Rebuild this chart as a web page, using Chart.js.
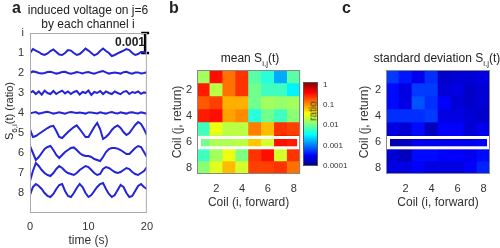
<!DOCTYPE html>
<html>
<head>
<meta charset="utf-8">
<script src="https://cdn.jsdelivr.net/npm/chart.js@4.4.0/dist/chart.umd.min.js"></script>
<style>
  body { margin: 0; width: 500px; height: 248px; overflow: hidden; position: relative; background: #fff;
         font-family: "Liberation Sans", Arial, sans-serif; color: #222; }
  canvas { position: absolute; top: 0; }
  .t { position: absolute; white-space: nowrap; font-size: 12px; transform: translate(-50%, -50%); }
  .rot { transform: translate(-50%, -50%) rotate(-90deg); }
  .lab { position: absolute; top: 0; font-weight: bold; font-size: 16px; line-height: 16px; }
  sub { font-size: 8px; vertical-align: -4px; line-height: 0; }
</style>
</head>
<body>
<canvas id="chA" width="160" height="248" style="left:0"></canvas>
<canvas id="chB" width="145" height="248" style="left:160px"></canvas>
<canvas id="chCb" width="55" height="248" style="left:300px"></canvas>
<canvas id="chC" width="150" height="248" style="left:350px"></canvas>

<div class="lab" style="left:12px">a</div>
<div class="lab" style="left:169px">b</div>
<div class="lab" style="left:342px">c</div>
<div class="t" style="left:88px;top:10px">induced voltage on j=6</div>
<div class="t" style="left:88px;top:24px">by each channel i</div>
<div class="t rot" style="left:9px;top:111px;font-size:11px">S<sub>6,i</sub>(t) (ratio)</div>
<div class="t" style="left:130px;top:42px;font-weight:bold">0.001</div>
<div class="t" style="left:250px;top:58px">mean S<sub>i,j</sub>(t)</div>
<div class="t" style="left:437px;top:58px">standard deviation S<sub>i,j</sub>(t)</div>
<div class="t rot" style="left:313px;top:111px;font-size:10px;color:#333">ratio</div>

<script>
// panel a: time axis and per-channel deflection (units of 0.001 ratio, up = positive)
const tSec = [0,0.5,1,1.5,2,2.5,3,3.5,4,4.5,5,5.5,6,6.5,7,7.5,8,8.5,9,9.5,10,
              10.5,11,11.5,12,12.5,13,13.5,14,14.5,15,15.5,16,16.5,17,17.5,18,18.5,19,19.5,20];
const trace1 = [0.0,0.2,0.12,0.05,-0.05,-0.1,-0.02,0.1,0.18,0.05,-0.08,-0.1,0.0,0.15,0.12,0.0,-0.1,-0.05,0.08,0.22,0.12,
                0.0,-0.12,-0.05,0.1,0.22,0.1,0.0,-0.15,-0.1,-0.02,0.05,0.12,0.2,0.15,0.0,-0.1,-0.05,0.05,0.05,0.0];
const trace2 = [0.0,0.08,0.05,0.0,-0.03,0.0,0.05,0.06,0.02,-0.03,0.0,0.05,0.06,0.0,-0.04,0.0,0.05,0.02,-0.02,0.03,0.05,
                0.0,-0.04,0.02,0.06,0.1,0.03,-0.03,0.0,0.03,0.0,-0.03,0.04,0.06,0.0,-0.04,0.02,0.03,-0.02,0.0,0.04];
const trace3 = [0.0,0.1,-0.05,0.08,-0.08,0.12,0.0,-0.05,0.1,-0.05,0.05,0.12,-0.02,0.08,-0.05,0.05,0.1,-0.08,0.05,0.0,0.12,
                -0.1,0.05,0.0,0.1,-0.05,0.08,0.0,-0.05,0.08,0.0,-0.06,0.06,0.1,-0.05,0.05,0.0,0.08,-0.04,0.03,0.0];
const trace4 = [-0.02,0.02,0.05,-0.03,0.0,0.04,0.06,0.02,-0.03,0.0,0.04,0.0,-0.04,0.02,0.05,0.02,0.0,0.03,0.0,-0.03,0.03,
                0.02,0.0,-0.02,0.04,0.0,-0.03,0.02,0.05,0.0,-0.02,0.03,0.0,-0.03,0.02,0.04,0.0,-0.02,0.03,0.0,-0.04];
const trace5 = [0.18,-0.2,-0.15,-0.05,0.05,0.15,0.25,0.33,0.36,0.1,-0.2,-0.25,-0.1,0.05,0.18,0.3,0.38,0.2,0.0,-0.2,-0.2,
                0.05,0.3,0.5,0.2,-0.3,-0.2,-0.05,0.15,0.3,0.38,0.25,0.05,-0.1,0.0,0.2,0.4,0.55,0.45,0.2,-0.1];
const trace6 = [0.35,0.0,-0.35,-0.2,0.0,0.2,0.3,0.35,0.15,-0.1,-0.25,-0.1,0.05,0.15,0.25,0.28,0.15,0.0,-0.1,-0.15,-0.15,
                -0.2,-0.3,-0.35,-0.4,-0.2,0.05,0.2,0.25,0.25,0.22,0.15,0.05,-0.05,-0.05,0.1,0.25,0.35,0.3,0.05,-0.2];
const trace7 = [-0.4,0.1,0.5,0.35,0.15,0.0,-0.1,-0.15,0.0,0.2,0.35,0.25,0.1,0.0,-0.05,-0.1,0.0,0.15,0.25,0.35,0.3,
                0.15,0.0,-0.1,-0.05,0.2,0.3,0.25,0.15,0.05,0.0,0.05,0.15,0.25,0.2,0.05,-0.05,-0.1,0.0,0.1,0.3];
const trace8 = [-0.1,0.3,0.45,0.35,0.2,0.0,-0.15,-0.2,-0.05,0.2,0.4,0.45,0.1,-0.15,-0.2,0.0,0.25,0.45,0.3,0.0,-0.2,
                -0.1,0.1,0.3,0.45,0.5,0.2,-0.05,-0.2,-0.1,0.15,0.4,0.3,0.0,-0.2,-0.15,0.1,0.35,0.45,0.3,0.2];
const traces = [trace1, trace2, trace3, trace4, trace5, trace6, trace7, trace8];
const chanTicks = [0, 1, 2, 3, 4, 5, 6, 7, 8];
const chanLabels = ['i', '1', '2', '3', '4', '5', '6', '7', '8'];
const timeTicks = [0, 10, 20];
const scaleBarT = 19.7, scaleBarY = [0, 1];   // 0.001 ratio bar

// panels b, c: log10 of mean and std of S_ij (rows j = 1..8, columns i = 1..8)
const coilLabels = ['1', '2', '3', '4', '5', '6', '7', '8'];
const coilTicks = [2, 4, 6, 8];
const meanLog = [
  [-1.8, -0.45, -0.85, -0.6, -2.1, -2.3, -2.8, -2.1],
  [-0.5, -1.7, -0.85, -0.6, -2.0, -2.2, -2.2, -2.5],
  [-0.75, -0.65, -1.1, -1.1, -2.0, -1.8, -1.85, -1.8],
  [-0.5, -0.45, -1.05, -0.95, -2.3, -2.0, -2.2, -1.9],
  [-2.2, -1.5, -1.7, -1.7, -0.9, -1.15, -0.6, -0.65],
  [-2.0, -1.75, -1.75, -1.7, -1.2, -1.6, -0.45, -0.5],
  [-2.2, -1.8, -1.5, -1.95, -0.6, -0.45, -1.6, -0.6],
  [-1.9, -1.55, -1.15, -1.6, -0.65, -0.65, -0.6, -0.85]
];
const stdLog = [
  [-3.25, -3.4, -3.55, -3.3, -3.7, -3.65, -3.65, -3.6],
  [-3.45, -3.6, -3.25, -3.25, -3.65, -3.6, -3.7, -3.65],
  [-3.45, -3.6, -3.15, -3.3, -3.5, -3.65, -3.7, -3.65],
  [-3.3, -3.3, -3.3, -3.25, -3.6, -3.6, -3.65, -3.7],
  [-3.6, -3.65, -3.45, -3.75, -3.5, -3.5, -3.65, -3.55],
  [-3.8, -3.75, -3.55, -3.55, -3.55, -3.55, -3.55, -3.5],
  [-3.65, -3.75, -3.45, -3.45, -3.5, -3.5, -3.55, -3.45],
  [-3.6, -3.6, -3.5, -3.6, -3.6, -3.6, -3.5, -3.35]
];
const highlightRow = 6;
const cbTicks = [0.0001, 0.001, 0.01, 0.1, 1];
const cbLabels = ['0.0001', '0.001', '0.01', '0.1', '1'];
const cbMin = 0.0001, cbMax = 1.32;

Chart.defaults.font.family = '"Liberation Sans", Arial, sans-serif';
Chart.defaults.color = '#333';

const clamp = v => Math.max(0, Math.min(1, v));
function jet(t) {
  const r = clamp(Math.min(4 * t - 1.5, -4 * t + 4.5));
  const g = clamp(Math.min(4 * t - 0.5, -4 * t + 3.5));
  const b = clamp(Math.min(4 * t + 0.5, -4 * t + 2.5));
  return `rgb(${Math.round(r * 255)},${Math.round(g * 255)},${Math.round(b * 255)})`;
}
const lmin = Math.log10(cbMin), lmax = Math.log10(cbMax);
const logColor = v => jet((v - lmin) / (lmax - lmin));

const framePlugin = {
  id: 'frame',
  afterDraw(chart, args, opts) {
    const {ctx, chartArea: a} = chart;
    ctx.save();
    ctx.strokeStyle = opts.color || '#999';
    ctx.lineWidth = 1;
    ctx.strokeRect(a.left + 0.5, a.top + 0.5, a.width - 1, a.height - 1);
    ctx.restore();
  }
};
const rowBox = {
  id: 'rowBox',
  afterDatasetsDraw(chart) {
    const {ctx, chartArea: a, scales: {y}} = chart;
    const y0 = y.getPixelForValue(highlightRow - 0.5), y1 = y.getPixelForValue(highlightRow + 0.5);
    ctx.save();
    ctx.strokeStyle = '#fff';
    ctx.lineWidth = 3;
    ctx.strokeRect(a.left + 2.5, y0 + 2.5, a.width - 4, y1 - y0 - 2.7);
    ctx.restore();
  }
};

const tickFont = {size: 11};
const noGrid = {display: false, drawTicks: false};

// ---- panel a
new Chart(document.getElementById('chA'), {
  type: 'line',
  data: {
    datasets: traces.map((tr, k) => ({
      data: tr.map((d, n) => ({x: tSec[n], y: k + 1 - d})),
      borderColor: '#2323d8', borderWidth: 2, pointRadius: 0, tension: 0
    })).concat([{
      data: scaleBarY.map(v => ({x: scaleBarT, y: v})),
      borderColor: '#000', borderWidth: 2.5, pointStyle: 'line', pointRadius: 4,
      pointBorderColor: '#000', pointBorderWidth: 2.5, clip: false
    }])
  },
  options: {
    responsive: false, animation: false, devicePixelRatio: 1,
    layout: {padding: {top: 33, right: 10, left: 0, bottom: 0}},
    plugins: {legend: {display: false}, tooltip: {enabled: false}, frame: {color: '#aaa'}},
    scales: {
      x: {
        type: 'linear', min: 0, max: 20,
        afterBuildTicks: s => { s.ticks = timeTicks.map(v => ({value: v})); },
        afterFit: s => { s.height = 35; },
        grid: noGrid, border: {display: false},
        ticks: {font: tickFont, padding: 7, maxRotation: 0},
        title: {display: true, text: 'time (s)', font: {size: 12}, padding: 0}
      },
      y: {
        type: 'linear', reverse: true, min: 0, max: 9,
        afterBuildTicks: s => { s.ticks = chanTicks.map(v => ({value: v})); },
        afterFit: s => { s.width = 30; },
        grid: noGrid, border: {display: false},
        ticks: {font: tickFont, padding: 6, callback: (v, i) => chanLabels[i]}
      }
    }
  },
  plugins: [framePlugin]
});

// ---- panels b and c
function heatmap(id, vals, yAxisW, titlePad, padRight) {
  const datasets = vals.map((row, r) => ({
    data: row.map(() => [r + 0.5, r + 1.5]),
    backgroundColor: row.map(logColor),
    grouped: false, barPercentage: 1, categoryPercentage: 1, borderWidth: 0
  }));
  return new Chart(document.getElementById(id), {
    type: 'bar',
    data: {labels: coilLabels, datasets},
    options: {
      responsive: false, animation: false, devicePixelRatio: 1,
      layout: {padding: {top: 70, right: padRight, left: 0, bottom: 38}},
      plugins: {legend: {display: false}, tooltip: {enabled: false}, frame: {color: '#888'}},
      scales: {
        x: {
          type: 'category', offset: true,
          afterFit: s => { s.height = 36; },
          grid: noGrid, border: {display: false},
          ticks: {font: tickFont, padding: 8, maxRotation: 0, minRotation: 0, autoSkip: false,
                  callback: (v, i) => coilTicks.includes(+coilLabels[i]) ? coilLabels[i] : ''},
          title: {display: true, text: 'Coil (i, forward)', font: {size: 12}, padding: 0}
        },
        y: {
          type: 'linear', reverse: true, min: 0.5, max: 8.5,
          afterBuildTicks: s => { s.ticks = coilTicks.map(v => ({value: v})); },
          afterFit: s => { s.width = yAxisW; },
          grid: noGrid, border: {display: false},
          ticks: {font: tickFont, padding: 5},
          title: {display: true, text: 'Coil (j, return)', font: {size: 12}, padding: {top: titlePad, bottom: 0}}
        }
      }
    },
    plugins: [rowBox, framePlugin]
  });
}
heatmap('chB', meanLog, 37, 10.8, 4);
heatmap('chC', stdLog, 36, 7.3, 10);

// ---- colour bar
const cbGradient = {
  id: 'cbGradient',
  beforeDatasetsDraw(chart) {
    const {ctx, chartArea: a, scales: {y}} = chart;
    const g = ctx.createLinearGradient(0, y.getPixelForValue(cbMin), 0, y.getPixelForValue(cbMax));
    for (let k = 0; k <= 32; k++) g.addColorStop(k / 32, jet(k / 32));
    ctx.save();
    ctx.fillStyle = g;
    ctx.fillRect(a.left, a.top, a.width, a.height);
    ctx.restore();
  }
};
new Chart(document.getElementById('chCb'), {
  type: 'line',
  data: {labels: [], datasets: []},
  options: {
    responsive: false, animation: false, devicePixelRatio: 1,
    layout: {padding: {top: 82, bottom: 82, left: 3, right: 0}},
    plugins: {legend: {display: false}, tooltip: {enabled: false}, frame: {color: '#555'}},
    scales: {
      x: {display: false},
      y: {
        type: 'logarithmic', position: 'right', min: cbMin, max: cbMax,
        afterBuildTicks: s => { s.ticks = cbTicks.map(v => ({value: v})); },
        afterFit: s => { s.width = 37; },
        grid: noGrid, border: {display: false},
        ticks: {font: {size: 8}, padding: 5, callback: (v, i) => cbLabels[i]}
      }
    }
  },
  plugins: [cbGradient, framePlugin]
});
</script>
</body>
</html>
